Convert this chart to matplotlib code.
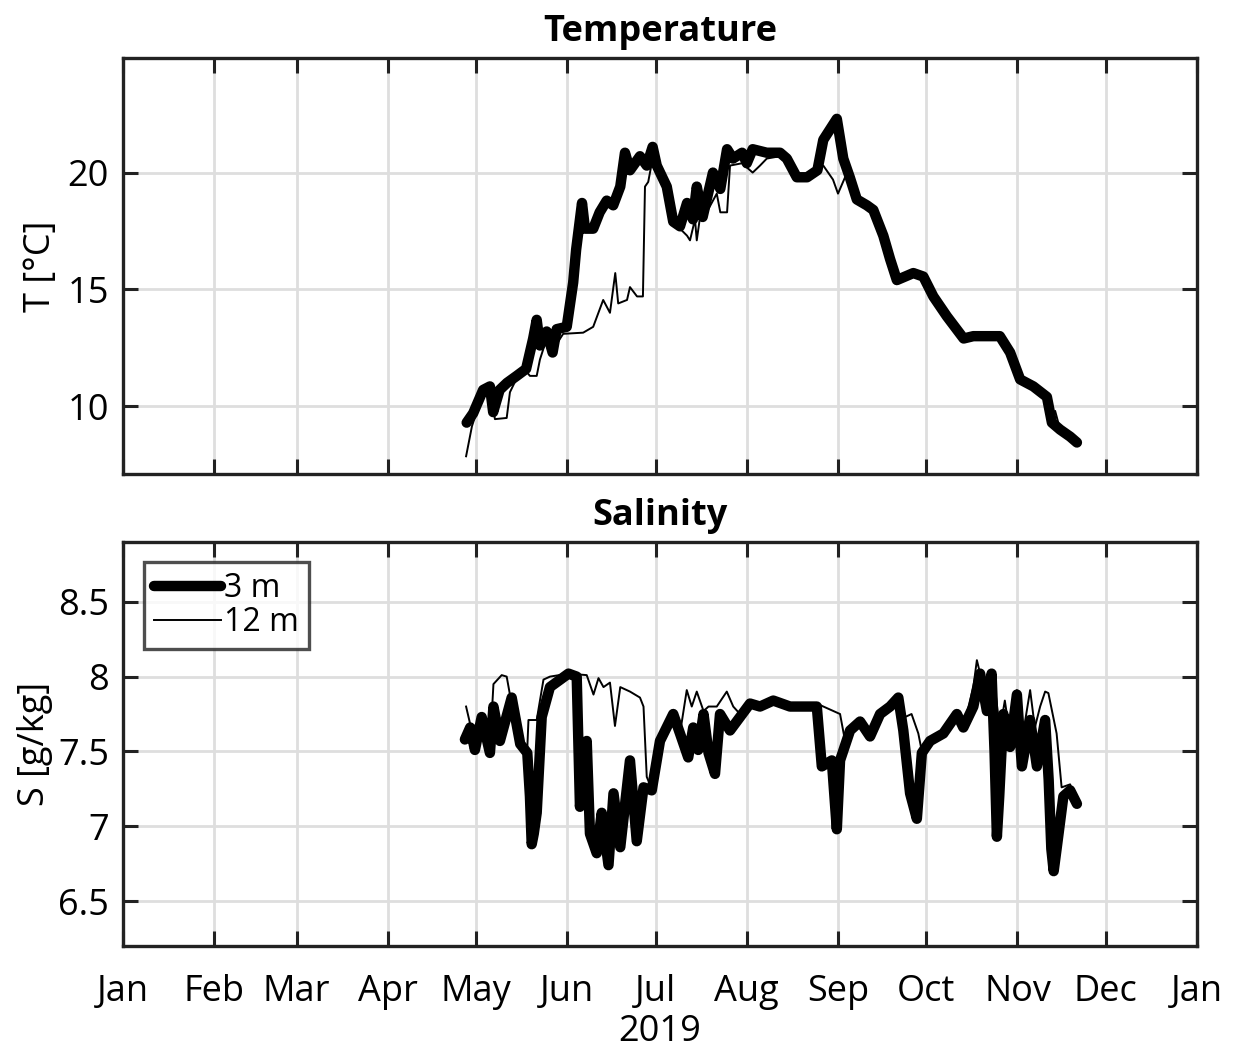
import numpy as np
import pandas as pd
import matplotlib
matplotlib.use('Agg')
import matplotlib.pyplot as plt

plt.rcParams['font.family'] = ['Open Sans', 'DejaVu Sans']

# days since 1 Jan 2019
t3_day = [116.8, 119, 122.4, 124.7, 125.8, 128, 130.5, 133.8, 137, 139.4, 140.6, 141.7,
          144, 146, 147.4, 150.8, 153, 154, 156, 157, 159.8, 162, 164.4, 166.6, 169,
          170.6, 172.3, 175.7, 178, 180, 181.4, 184.8, 187, 189.3, 191.7, 193.7, 195,
          197, 200.5, 203, 205.3, 207.3, 210.4, 212, 214, 218.8, 223.3, 225.6, 229,
          232.5, 236, 238, 242.6, 244.8, 247, 249.4, 252.8, 255, 258.4, 260.7, 263,
          268.6, 272, 275.4, 280, 285.7, 289, 298, 301.5, 304.9, 309.4, 314, 315.7,
          318.5, 321.9, 324.2]
t3_val = [9.3, 9.7, 10.7, 10.85, 9.75, 10.7, 11.0, 11.3, 11.6, 12.9, 13.7, 12.6,
          13.2, 12.3, 13.3, 13.4, 15.3, 16.7, 18.7, 17.6, 17.6, 18.3, 18.8, 18.6, 19.4,
          20.85, 20.1, 20.7, 20.3, 21.1, 20.3, 19.4, 17.9, 17.7, 18.7, 18.0, 19.4,
          18.1, 20.0, 19.3, 21.0, 20.6, 20.85, 20.4, 21.0, 20.85, 20.85, 20.6, 19.8,
          19.8, 20.1, 21.4, 22.3, 20.6, 19.8, 18.85, 18.6, 18.4, 17.3, 16.3, 15.4,
          15.7, 15.55, 14.7, 13.85, 12.9, 13.0, 13.0, 12.3, 11.15, 10.85, 10.4, 9.3,
          9.0, 8.7, 8.45]

t12_day = [116.6, 118.6, 122.4, 124.7, 126.4, 130.4, 131.5, 133.8, 137, 138.3, 140.6,
           141.7, 144, 146, 149.6, 156.4, 159.8, 163.2, 165.5, 167.3, 168.3, 171.3,
           172.3, 174.7, 176.7, 177.4, 178.5, 180, 181.4, 184.8, 187, 189.3, 191.7,
           192.7, 194.4, 195, 196, 197.5, 201.8, 203, 205.3, 206.3, 210.4, 214, 216.5,
           218.8, 223.3, 225.6, 229, 232.5, 236, 238, 241.3, 243, 245.4, 247, 249.4,
           252.8, 255, 258.4, 260.7, 263, 268.6, 272, 275.4, 280, 285.7, 289, 298,
           301.5, 304.9, 309.4, 314, 315.2, 316.8, 318.5, 321.9, 324.2]
t12_val = [7.86, 9.15, 10.6, 10.8, 9.45, 9.5, 10.6, 11.2, 11.5, 11.3, 11.3,
           12.0, 12.9, 12.4, 13.1, 13.15, 13.4, 14.55, 14.0, 15.7, 14.4, 14.55,
           15.1, 14.7, 14.7, 19.4, 19.6, 20.6, 20.1, 19.3, 17.9, 17.6, 17.3,
           17.1, 18.0, 17.1, 18.0, 18.1, 19.1, 18.3, 18.3, 20.3, 20.4, 20.0, 20.3,
           20.6, 20.7, 20.5, 19.8, 19.8, 20.0, 20.3, 19.7, 19.1, 19.8, 19.8, 18.85,
           18.6, 18.4, 17.3, 16.3, 15.4, 15.7, 15.55, 14.7, 13.85, 12.9, 13.0, 13.0,
           12.3, 11.15, 10.85, 10.4, 9.6, 9.8, 9.0, 8.7, 8.45]

s3_day = [116.2, 118, 119.6, 121.9, 124.7, 125.9, 128.1, 132.1, 135, 137.4, 138.3,
          138.9, 139.6, 140.6, 142.3, 145.1, 151.4, 154.2, 155.3, 157.6, 158.7, 161,
          162.7, 165, 166.7, 169, 172.3, 174.6, 176.9, 179.7, 182.5, 187, 189.3, 192.1,
          193.8, 195.5, 197.3, 199, 201.2, 202.9, 206.3, 209.7, 213.1, 216.5, 221,
          226.7, 235.8, 237.5, 240.9, 242.6, 243.7, 247.1, 250.5, 253.9, 257.3, 260.7,
          263.5, 265.2, 267.5, 269.8, 271.5, 274.3, 278.8, 283.4, 285.6, 289, 291.3,
          293.6, 295.2, 296.2, 297, 297.8, 299.2, 301.5, 303.8, 305.5, 308.3, 310.6,
          313.4, 314.6, 315.5, 316.3, 317.3, 319.6, 321.9, 324.2]
s3_val = [7.58, 7.66, 7.51, 7.73, 7.49, 7.8, 7.57, 7.86, 7.55, 7.49, 7.2,
          6.88, 6.95, 7.09, 7.73, 7.93, 8.02, 8.0, 7.13, 7.57, 6.95, 6.82,
          7.09, 6.74, 7.22, 6.86, 7.44, 6.9, 7.26, 7.24, 7.57, 7.75, 7.62, 7.46,
          7.66, 7.51, 7.75, 7.49, 7.35, 7.75, 7.64, 7.73, 7.82, 7.8, 7.84,
          7.8, 7.8, 7.4, 7.44, 6.98, 7.44, 7.64, 7.7, 7.6, 7.75, 7.8,
          7.86, 7.64, 7.22, 7.05, 7.49, 7.57, 7.62, 7.75, 7.66, 7.8, 8.02,
          7.77, 8.02, 7.5, 6.93, 7.2, 7.75, 7.53, 7.88, 7.4, 7.71, 7.4,
          7.71, 7.31, 6.85, 6.7, 6.85, 7.2, 7.24, 7.15]

s12_day = [116.6, 118.5, 121.9, 124.7, 125.9, 128.7, 130.4, 131.5, 135, 137.4, 137.8,
           140.6, 142.9, 145.1, 151.4, 157.6, 159.9, 161.6, 163.3, 165.5, 167.2, 169,
           172.3, 175.7, 176.9, 178, 179.7, 182.5, 187, 189.3, 191.6, 193.3, 195,
           197.3, 199, 201.8, 205.2, 207.4, 209.7, 213.1, 216.5, 221, 226.7, 236.9,
           243.7, 245.4, 247.1, 250.5, 253.9, 257.3, 260.7, 263.5, 265.8, 268, 270.3,
           271.5, 274.3, 278.8, 283.4, 285.6, 289, 290.2, 291.8, 293.6, 295.2, 296.5,
           298, 299.7, 301.5, 303.8, 305.5, 308.3, 309.9, 311.7, 313.4, 314.5, 317.3,
           319, 321.9, 324.2]
s12_val = [7.8, 7.64, 7.73, 7.52, 7.95, 8.01, 8.0, 7.88, 7.6, 7.52, 7.71,
           7.71, 7.98, 8.0, 8.02, 8.01, 7.88, 7.99, 7.93, 7.96, 7.67, 7.93,
           7.9, 7.86, 7.8, 7.33, 7.25, 7.57, 7.75, 7.62, 7.91, 7.8, 7.9,
           7.77, 7.8, 7.8, 7.9, 7.8, 7.75, 7.82, 7.8, 7.84, 7.82, 7.81,
           7.75, 7.57, 7.64, 7.7, 7.62, 7.75, 7.8, 7.88, 7.73, 7.75, 7.62,
           7.5, 7.57, 7.62, 7.75, 7.66, 7.93, 8.11, 7.98, 7.95, 8.0, 7.9,
           7.64, 7.84, 7.6, 7.91, 7.57, 7.91, 7.66, 7.8, 7.9, 7.89, 7.62,
           7.26, 7.28, 7.15]

month_labels = ['Jan', 'Feb', 'Mar', 'Apr', 'May', 'Jun', 'Jul', 'Aug', 'Sep',
                'Oct', 'Nov', 'Dec', 'Jan']

start = pd.Timestamp('2019-01-01')


def to_dates(days):
    return start + pd.to_timedelta(np.asarray(days), unit='D')


month_ticks = pd.date_range('2019-01-01', '2020-01-01', freq='MS')

fig = plt.figure(figsize=(12.35, 10.56), dpi=100)
ax1 = fig.add_axes([0.0996, 0.5511, 0.8696, 0.3939])
ax2 = fig.add_axes([0.0996, 0.1042, 0.8696, 0.3826])

thick = dict(color='k', lw=7.5, solid_joinstyle='round', solid_capstyle='round')
thin = dict(color='k', lw=1.4, solid_joinstyle='round')

ax1.plot(to_dates(t3_day), t3_val, label='3 m', **thick)
ax1.plot(to_dates(t12_day), t12_val, label='12 m', **thin)
ax2.plot(to_dates(s3_day), s3_val, label='3 m', **thick)
ax2.plot(to_dates(s12_day), s12_val, label='12 m', **thin)

for ax in (ax1, ax2):
    ax.set_xlim(month_ticks[0], month_ticks[-1])
    ax.set_xticks(month_ticks)
    ax.grid(True, color='#dedede', lw=2)
    ax.set_axisbelow(True)
    ax.tick_params(direction='in', length=11, width=2.2, top=True, right=True,
                   labelsize=26, color='#222222')
    ax.tick_params(axis='y', pad=10)
    ax.tick_params(axis='x', pad=20)
    for sp in ax.spines.values():
        sp.set_linewidth(2.4)
        sp.set_color('#222222')

ax1.set_ylim(7.1, 24.9)
ax1.set_yticks([10, 15, 20])
ax1.set_xticklabels([])
ax1.set_ylabel('T [°C]', fontsize=26, labelpad=6)
ax1.set_title('Temperature', fontsize=26, fontweight='bold', pad=12)

ax2.set_ylim(6.2, 8.9)
ax2.set_yticks([6.5, 7, 7.5, 8, 8.5])
ax2.set_yticklabels(['6.5', '7', '7.5', '8', '8.5'])
ax2.set_xticklabels(month_labels)
ax2.set_ylabel('S [g/kg]', fontsize=26, labelpad=4)
ax2.set_xlabel('2019', fontsize=26, labelpad=3)
ax2.set_title('Salinity', fontsize=26, fontweight='bold', pad=12)

leg = ax2.legend(loc='upper left', bbox_to_anchor=(0.02, 0.95), fontsize=23,
                 frameon=True, fancybox=False, edgecolor='#222222',
                 handlelength=2.1, handletextpad=0.1, labelspacing=0.05,
                 borderpad=0.3, borderaxespad=0)
leg.get_frame().set_linewidth(2.4)

fig.savefig('out.png', dpi=100, facecolor='white')
